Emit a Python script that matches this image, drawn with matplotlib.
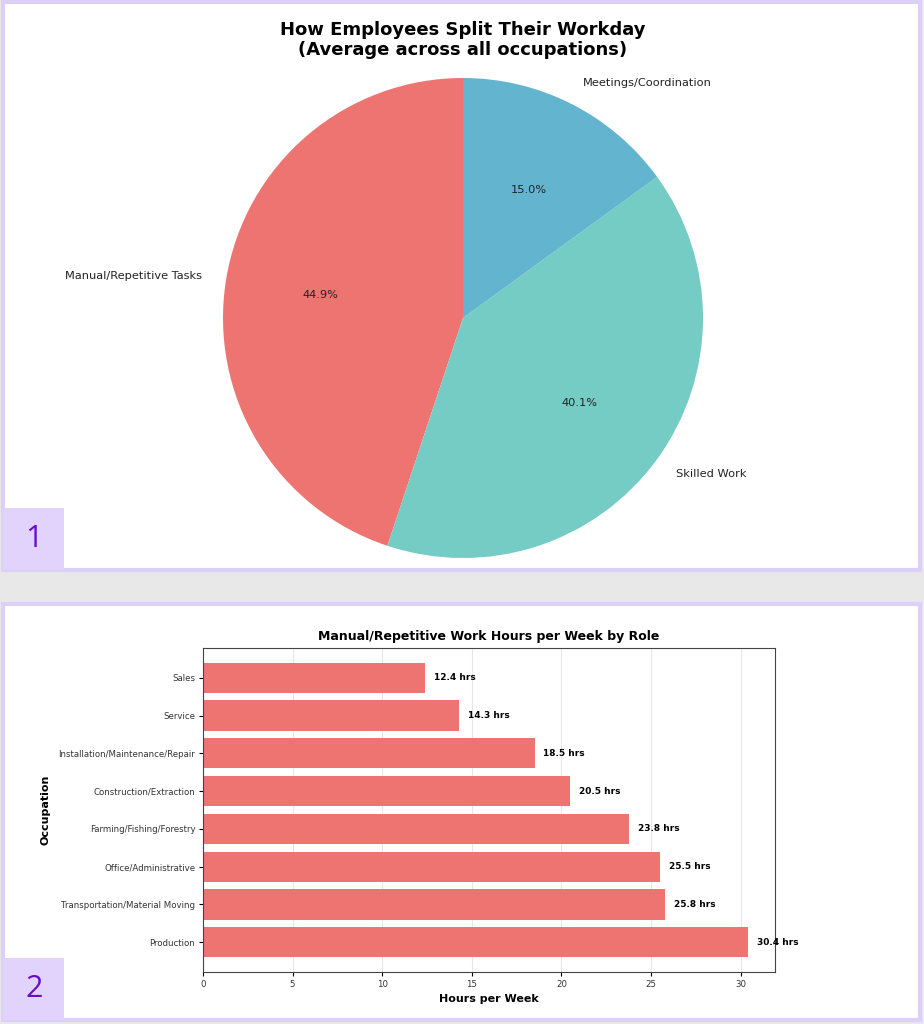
import matplotlib.pyplot as plt
from matplotlib.patches import Rectangle

# pie data
split_labels = ['Manual/Repetitive Tasks', 'Skilled Work', 'Meetings/Coordination']
split_values = [44.9, 40.1, 15.0]
split_colors = ['#ED7470', '#75CCC4', '#63B5CF']

# bar data (bottom to top)
occupations = ['Production', 'Transportation/Material Moving', 'Office/Administrative',
               'Farming/Fishing/Forestry', 'Construction/Extraction',
               'Installation/Maintenance/Repair', 'Service', 'Sales']
manual_hours = [30.4, 25.8, 25.5, 23.8, 20.5, 18.5, 14.3, 12.4]

W, H = 924, 1024
fig = plt.figure(figsize=(W / 100, H / 100), dpi=100, facecolor='#e8e8e8')


def px_rect(x0, y0, x1, y1, **kw):
    # pixel box (top-left origin) -> figure rectangle
    return Rectangle((x0 / W, 1 - y1 / H), (x1 - x0) / W, (y1 - y0) / H,
                     transform=fig.transFigure, **kw)


lav = '#DDD0F8'
for (y0, y1) in [(2, 570), (604, 1020)]:
    fig.patches.append(px_rect(3, y0, 920, y1, facecolor='white', edgecolor=lav,
                               linewidth=3, zorder=-5))

for num, (y0, y1) in zip(['1', '2'], [(508, 570), (958, 1020)]):
    fig.patches.append(px_rect(3, y0, 64, y1, facecolor='#E2D3FC', edgecolor='none', zorder=-4))
    fig.text(34 / W, 1 - (y0 + y1) / 2 / H, num, ha='center', va='center',
             fontsize=22, color='#6A0DC8', family='Open Sans')

# --- pie ---
cx, cy, r = 463, 318, 240
half = 1.25 * r
ax1 = fig.add_axes([(cx - half) / W, 1 - (cy + half) / H, 2 * half / W, 2 * half / H])
ax1.patch.set_visible(False)
ax1.pie(split_values, labels=split_labels, colors=split_colors, autopct='%1.1f%%',
        startangle=90, counterclock=True, textprops={'fontsize': 8.2, 'color': '#222222'})
ax1.set_xlim(-1.25, 1.25)
ax1.set_ylim(-1.25, 1.25)
ax1.set_aspect('equal')
fig.text(cx / W, 1 - 40 / H, 'How Employees Split Their Workday\n(Average across all occupations)',
         ha='center', va='center', fontsize=13, fontweight='bold', linespacing=1.1)

# --- bars ---
ax2 = fig.add_axes([203 / W, 1 - 972 / H, 572 / W, 324 / H])
ypos = range(len(occupations))
ax2.barh(ypos, manual_hours, color='#ED7470', height=0.8)
ax2.set_yticks(list(ypos))
ax2.set_yticklabels(occupations)
ax2.tick_params(labelsize=6.2, labelcolor='#333333', length=3, pad=2.5)
for y, v in zip(ypos, manual_hours):
    ax2.text(v + 0.5, y, f'{v} hrs', va='center', fontsize=6.5, fontweight='bold')
ax2.set_xlim(0, max(manual_hours) * 1.05)
ax2.grid(axis='x', alpha=0.3)
ax2.set_axisbelow(True)
ax2.set_xlabel('Hours per Week', fontsize=8, fontweight='bold')
ax2.set_ylabel('Occupation', fontsize=8, fontweight='bold', labelpad=6)
ax2.set_title('Manual/Repetitive Work Hours per Week by Role', fontsize=9, fontweight='bold')
for s in ax2.spines.values():
    s.set_color('#444444')

fig.savefig('out.png', dpi=100, facecolor=fig.get_facecolor())
plt.close()
